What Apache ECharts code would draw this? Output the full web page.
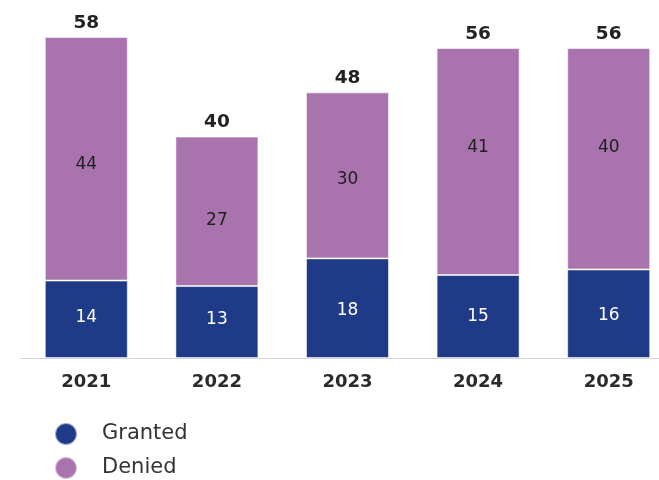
<!DOCTYPE html>
<html>
<head>
<meta charset="utf-8">
<script src="https://cdn.jsdelivr.net/npm/echarts@6/dist/echarts.min.js"></script>
<style>
  html, body { margin: 0; padding: 0; background: #fff; }
  #chart { width: 659px; height: 480px; }
</style>
</head>
<body>
<div id="chart"></div>
<script>
// Yearly requests, split by outcome
const years = ['2021', '2022', '2023', '2024', '2025'];
const granted = [14, 13, 18, 15, 16];
const denied = [44, 27, 30, 41, 40];
const totals = years.map((_, i) => granted[i] + denied[i]);

const NAVY = '#1f3a87';
const PURPLE = '#a974ad';
const FONT = '"DejaVu Sans", Verdana, sans-serif';

// vertical nudges (px) for the in-bar figures
const grantedNudge = [-2, -2, 2, 0, 2];
const deniedNudge = [6, 9, 4, -14, -11];

const withNudge = (values, nudge) =>
  values.map((v, i) => ({ value: v, label: { offset: [0, nudge[i]] } }));

const chart = echarts.init(document.getElementById('chart'));
chart.setOption({
  animation: false,
  textStyle: { fontFamily: FONT },
  grid: { left: 21, top: 37, width: 653, bottom: 122, containLabel: false, outerBoundsMode: 'none' },
  legend: {
    orient: 'vertical',
    left: 49,
    top: 417,
    height: 100,
    icon: 'circle',
    itemWidth: 22,
    itemHeight: 22,
    itemGap: 10,
    data: ['Granted', 'Denied'],
    textStyle: { fontFamily: FONT, fontSize: 21, color: '#333', padding: [0, 0, 0, 20] }
  },
  xAxis: {
    type: 'category',
    data: years,
    axisLine: { show: true, lineStyle: { color: '#d6d6d6', width: 1 } },
    axisTick: { show: false },
    axisLabel: { fontFamily: FONT, fontSize: 18, fontWeight: 'bold', color: '#2a2a2a', margin: 15 }
  },
  yAxis: {
    type: 'value',
    min: 0,
    max: 58,
    show: false,
    splitLine: { show: false }
  },
  series: [
    {
      name: 'Granted',
      type: 'bar',
      stack: 'outcome',
      barWidth: 83,
      data: withNudge(granted, grantedNudge),
      itemStyle: { color: NAVY, borderColor: 'rgba(255,255,255,0.55)', borderWidth: 1 },
      label: { show: true, position: 'inside', fontFamily: FONT, fontSize: 17, color: '#ffffff' }
    },
    {
      name: 'Denied',
      type: 'bar',
      stack: 'outcome',
      barWidth: 83,
      data: withNudge(denied, deniedNudge),
      itemStyle: { color: PURPLE, borderColor: 'rgba(255,255,255,0.55)', borderWidth: 1 },
      label: { show: true, position: 'inside', fontFamily: FONT, fontSize: 17, color: '#1e1e1e' }
    },
    {
      // invisible carrier for the total figure above each stack
      name: 'Total',
      type: 'line',
      data: totals,
      symbol: 'circle',
      symbolSize: 1,
      showSymbol: true,
      clip: false,
      itemStyle: { color: 'rgba(0,0,0,0)' },
      lineStyle: { width: 0, color: 'rgba(0,0,0,0)' },
      silent: true,
      label: { show: true, position: 'top', distance: 4, fontFamily: FONT, fontSize: 18.5, fontWeight: 'bold', color: '#222' }
    }
  ]
});
</script>
</body>
</html>
